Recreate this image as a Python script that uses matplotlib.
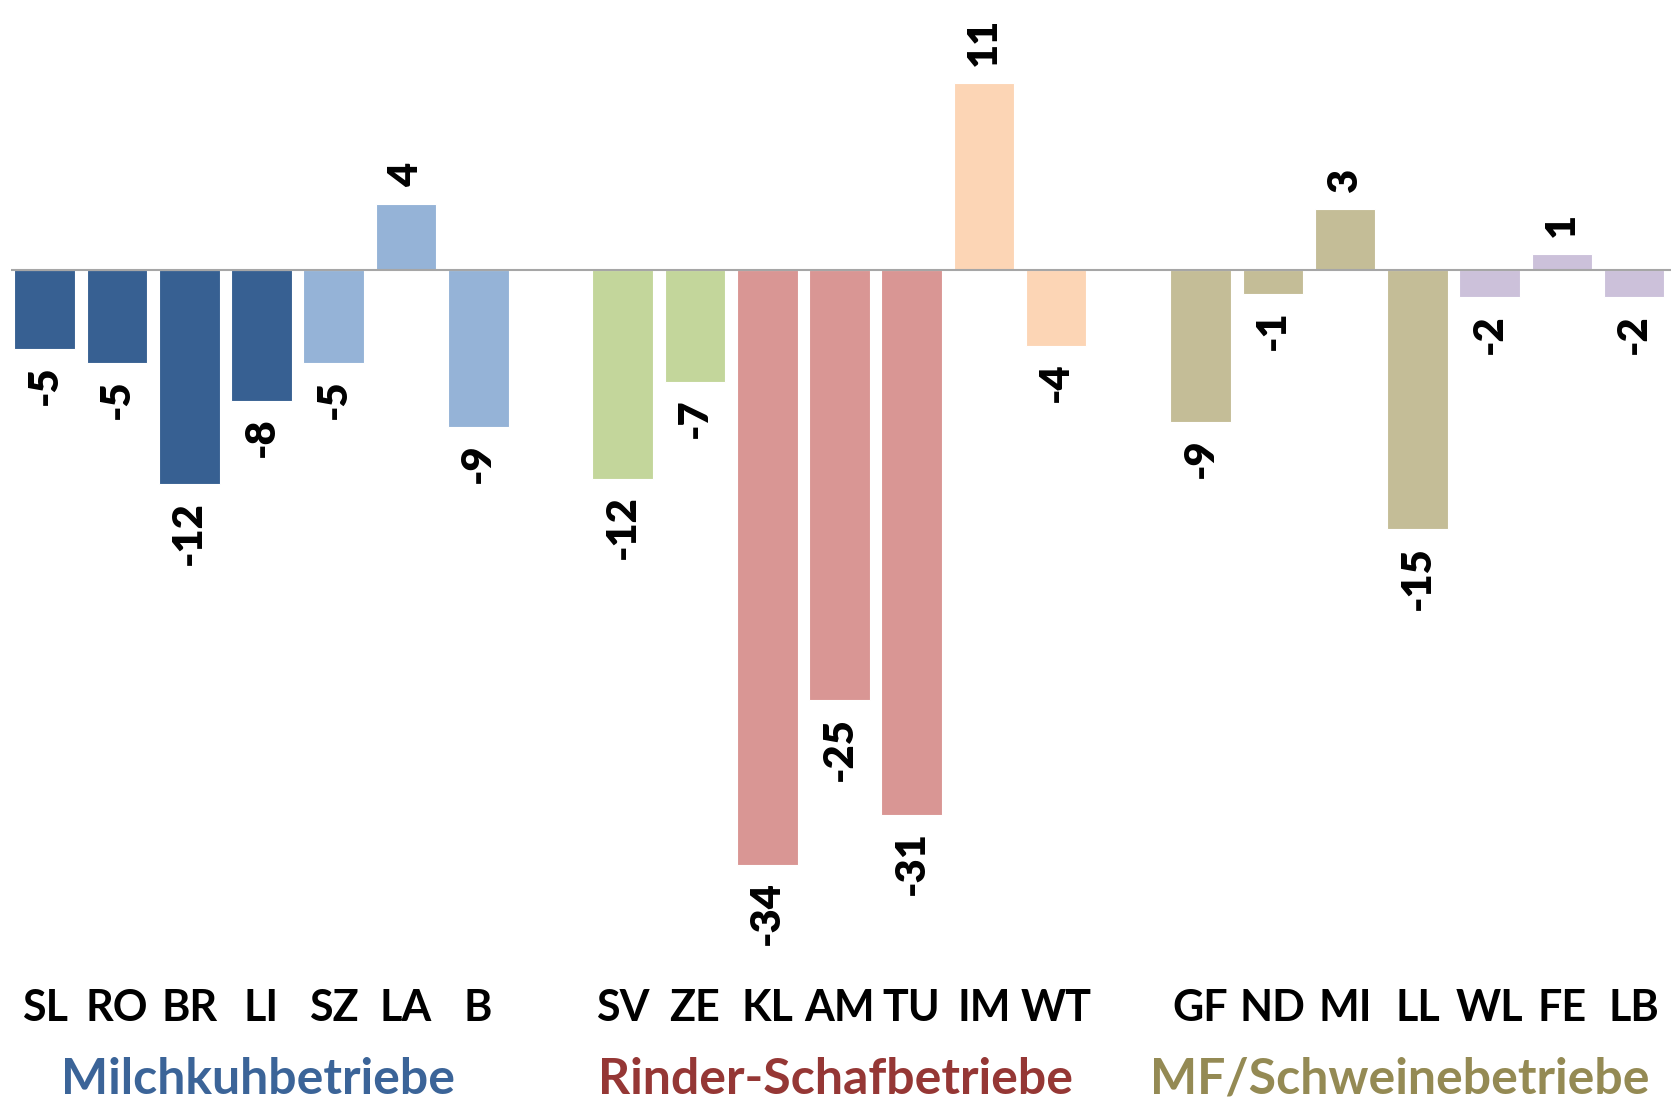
import matplotlib
matplotlib.use("Agg")
import matplotlib.pyplot as plt

plt.rcParams['font.family'] = ['Lato', 'DejaVu Sans']
plt.rcParams['font.weight'] = 'bold'

# categories per group (one empty slot between groups)
milch = ['SL', 'RO', 'BR', 'LI', 'SZ', 'LA', 'B']
rinder = ['SV', 'ZE', 'KL', 'AM', 'TU', 'IM', 'WT']
schwein = ['GF', 'ND', 'MI', 'LL', 'WL', 'FE', 'LB']

# bar values and printed labels
milch_vals = [-4.6, -5.4, -12.4, -7.6, -5.4, 3.8, -9.1]
rinder_vals = [-12.1, -6.5, -34.4, -24.9, -31.5, 10.8, -4.4]
schwein_vals = [-8.8, -1.4, 3.5, -15.0, -1.6, 0.9, -1.6]
milch_lab = [-5, -5, -12, -8, -5, 4, -9]
rinder_lab = [-12, -7, -34, -25, -31, 11, -4]
schwein_lab = [-9, -1, 3, -15, -2, 1, -2]

milch_col = ['#376092'] * 4 + ['#95B3D7'] * 3
rinder_col = ['#C3D69B'] * 2 + ['#D99694'] * 3 + ['#FCD5B5'] * 2
schwein_col = ['#C4BD97'] * 4 + ['#CCC1DA'] * 3

group_names = ['Milchkuhbetriebe', 'Rinder-Schafbetriebe', 'MF/Schweinebetriebe']
group_cols = ['#3B6498', '#953735', '#948A54']

cats = milch + rinder + schwein
vals = milch_vals + rinder_vals + schwein_vals
labs = milch_lab + rinder_lab + schwein_lab
cols = milch_col + rinder_col + schwein_col
xs = list(range(0, 7)) + list(range(8, 15)) + list(range(16, 23))

fig = plt.figure(figsize=(16.71, 11), dpi=100)
W, H = 1671, 1100
zero_px = 269.6
unit = 17.3
ax_bottom_px = 960
ax = fig.add_axes([10.7 / W, (H - ax_bottom_px) / H, 1 - 10.7 / W, ax_bottom_px / H])
ax.set_xlim(-0.47, 22.51)
ax.set_ylim(-(ax_bottom_px - zero_px) / unit, zero_px / unit)

ax.bar(xs, vals, width=0.84, color=cols, edgecolor='white', linewidth=0.8, zorder=2)
ax.axhline(0, color='#A6A6A6', linewidth=1.5, zorder=3)

for x, v, l in zip(xs, vals, labs):
    off = 12 if v > 0 else -12
    ax.annotate(str(l), (x, v), xytext=(0, off), textcoords='offset points',
                rotation=90, ha='center', va='bottom' if v > 0 else 'top',
                fontsize=30, fontweight='heavy', color='black')

ax.set_xticks(xs)
ax.set_xticklabels(cats, fontsize=31, fontweight='bold')
ax.tick_params(axis='x', length=0, pad=20)
ax.set_yticks([])
for s in ax.spines.values():
    s.set_visible(False)

group_x = [2.95, 10.95, 18.75]
for c, name, gc in zip(group_x, group_names, group_cols):
    xf = (10.7 + (c + 0.47) * (W - 10.7) / 22.98) / W
    fig.text(xf, 1 - 1079 / H, name, ha='center', va='center',
             fontsize=36, fontweight='bold', color=gc)

fig.savefig('out.png', dpi=100)
